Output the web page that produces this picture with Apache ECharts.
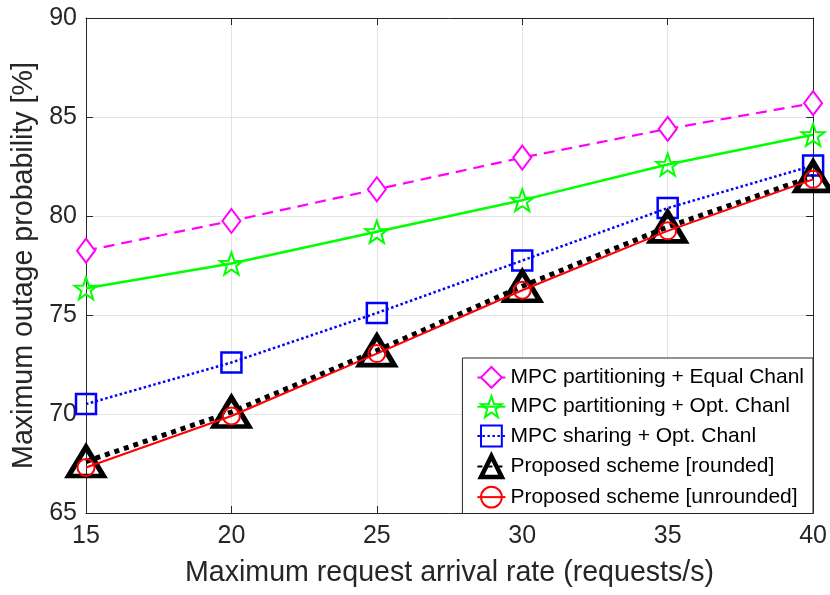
<!DOCTYPE html>
<html>
<head>
<meta charset="utf-8">
<script src="https://cdn.jsdelivr.net/npm/echarts@6/dist/echarts.min.js"></script>
<style>
  html, body { margin: 0; padding: 0; background: #fff; }
  #chart { width: 830px; height: 595px; }
</style>
</head>
<body>
<div id="chart"></div>
<script>
// Request arrival rates (requests/s)
var arrivalRates = [15, 20, 25, 30, 35, 40];

// Maximum outage probability [%] per scheme
var mpcPartEqual   = [78.25, 79.75, 81.35, 82.95, 84.4, 85.7];
var mpcPartOpt     = [76.35, 77.6, 79.2, 80.8, 82.6, 84.1];
var mpcSharingOpt  = [70.5, 72.6, 75.1, 77.75, 80.4, 82.55];
var proposedRound  = [67.6, 70.1, 73.2, 76.45, 79.45, 82.0];
var proposedUnrnd  = [67.3, 69.9, 73.05, 76.25, 79.25, 81.85];

var seriesNames = [
  'MPC partitioning + Equal Chanl',
  'MPC partitioning + Opt. Chanl',
  'MPC sharing + Opt. Chanl',
  'Proposed scheme [rounded]',
  'Proposed scheme [unrounded]'
];

var xTicks = { min: 15, max: 40, step: 5 };
var yTicks = { min: 65, max: 90, step: 5 };

function pairs(ys) {
  return arrivalRates.map(function (x, i) { return [x, ys[i]]; });
}

var FONT = "'Liberation Sans', Arial, Helvetica, sans-serif";
var AXIS_COLOR = '#262626';
var STAR = 'path://M0,-10L2.35,-3.24L9.51,-3.09L3.8,1.24L5.88,8.09L0,4L-5.88,8.09L-3.8,1.24L-9.51,-3.09L-2.35,-3.24Z';

var chart = echarts.init(document.getElementById('chart'), null, { renderer: 'canvas' });

function baseAxis(extra) {
  var ax = {
    type: 'value',
    axisLine: { show: true, lineStyle: { color: AXIS_COLOR, width: 1 } },
    axisTick: { show: true, inside: true, length: 7, lineStyle: { color: AXIS_COLOR, width: 1 } },
    splitLine: { show: false },
    axisLabel: { show: false }
  };
  for (var k in extra) ax[k] = extra[k];
  return ax;
}

var option = {
  backgroundColor: '#ffffff',
  animation: false,
  grid: { left: 86, right: 16, top: 18, bottom: 82, containLabel: false },
  xAxis: [
    baseAxis({
      min: xTicks.min, max: xTicks.max, interval: xTicks.step, position: 'bottom',
      name: 'Maximum request arrival rate (requests/s)',
      nameLocation: 'middle', nameGap: 46,
      nameTextStyle: { fontFamily: FONT, fontSize: 28.6, color: AXIS_COLOR },
      axisLabel: { show: true, fontFamily: FONT, fontSize: 25, color: AXIS_COLOR, margin: 11 },
      splitLine: { show: true, lineStyle: { color: '#e3e3e3', width: 1 } }
    }),
    baseAxis({ min: xTicks.min, max: xTicks.max, interval: xTicks.step, position: 'top' })
  ],
  yAxis: [
    baseAxis({
      min: yTicks.min, max: yTicks.max, interval: yTicks.step, position: 'left',
      name: 'Maximum outage probability [%]',
      nameLocation: 'middle', nameGap: 45,
      nameTextStyle: { fontFamily: FONT, fontSize: 28.6, color: AXIS_COLOR },
      axisLabel: { show: true, fontFamily: FONT, fontSize: 25, color: AXIS_COLOR, margin: 9 },
      splitLine: { show: true, lineStyle: { color: '#e3e3e3', width: 1 } }
    }),
    baseAxis({ min: yTicks.min, max: yTicks.max, interval: yTicks.step, position: 'right' })
  ],
  legend: {
    orient: 'vertical',
    right: 17, top: 358,
    padding: [8, 9, 5, 14],
    itemWidth: 28, itemHeight: 26, itemGap: 6.5,
    backgroundColor: '#ffffff',
    borderColor: AXIS_COLOR, borderWidth: 1, borderRadius: 0,
    textStyle: { fontFamily: FONT, fontSize: 21, color: '#000' },
    data: [
      { name: seriesNames[0] },
      { name: seriesNames[1] },
      { name: seriesNames[2] },
      { name: seriesNames[3], itemStyle: { borderWidth: 4.5 } },
      { name: seriesNames[4] }
    ]
  },
  series: [
    {
      name: seriesNames[0], type: 'line', data: pairs(mpcPartEqual),
      symbol: 'diamond', symbolSize: [18, 24],
      lineStyle: { color: '#ff00ff', width: 2.2, type: [11, 7] },
      itemStyle: { color: '#ffffff', borderColor: '#ff00ff', borderWidth: 2 },
      z: 2
    },
    {
      name: seriesNames[1], type: 'line', data: pairs(mpcPartOpt),
      symbol: STAR, symbolSize: 23, symbolKeepAspect: true,
      lineStyle: { color: '#00ff00', width: 2.5 },
      itemStyle: { color: 'rgba(255,255,255,0)', borderColor: '#00ff00', borderWidth: 2 },
      z: 3
    },
    {
      name: seriesNames[2], type: 'line', data: pairs(mpcSharingOpt),
      symbol: 'rect', symbolSize: 20,
      lineStyle: { color: '#0000ff', width: 2.5, type: [2.5, 2.5] },
      itemStyle: { color: 'rgba(255,255,255,0)', borderColor: '#0000ff', borderWidth: 2.5 },
      z: 4
    },
    {
      name: seriesNames[3], type: 'line', data: pairs(proposedRound),
      symbol: 'triangle', symbolSize: [35, 29],
      lineStyle: { color: '#000000', width: 5, type: [5, 5] },
      itemStyle: { color: 'rgba(255,255,255,0)', borderColor: '#000000', borderWidth: 5 },
      z: 5
    },
    {
      name: seriesNames[4], type: 'line', data: pairs(proposedUnrnd),
      symbol: 'circle', symbolSize: 17,
      lineStyle: { color: '#ff0000', width: 2 },
      itemStyle: { color: 'rgba(255,255,255,0)', borderColor: '#ff0000', borderWidth: 2 },
      z: 6
    }
  ]
};

chart.setOption(option);
</script>
</body>
</html>
